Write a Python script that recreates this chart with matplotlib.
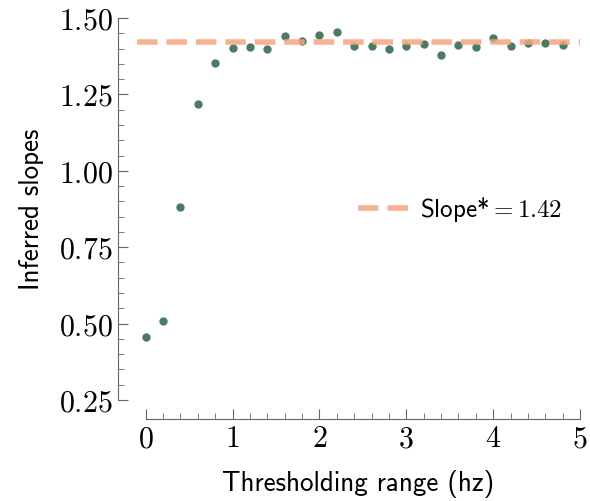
import numpy as np
import matplotlib.pyplot as plt
from matplotlib.ticker import MultipleLocator

plt.rcParams['mathtext.fontset'] = 'cm'
plt.rcParams['axes.formatter.use_mathtext'] = True

threshold_range = [0.0, 0.2, 0.4, 0.6, 0.8, 1.0, 1.2, 1.4, 1.6, 1.8, 2.0, 2.2, 2.4,
                   2.6, 2.8, 3.0, 3.2, 3.4, 3.6, 3.8, 4.0, 4.2, 4.4, 4.6, 4.8]
inferred_slopes = [0.456, 0.509, 0.882, 1.220, 1.353, 1.403, 1.404, 1.399, 1.441,
                   1.426, 1.445, 1.454, 1.410, 1.409, 1.397, 1.408, 1.414, 1.378,
                   1.411, 1.406, 1.436, 1.409, 1.419, 1.419, 1.411]
true_slope = 1.42

fig = plt.figure(figsize=(5.9, 5.01), dpi=100)
ax = fig.add_axes([137/590, 1 - 400/501, (580 - 137)/590, (400 - 18)/501])

ax.scatter(threshold_range, inferred_slopes, s=36, color='#4b7b63', zorder=2, linewidths=0)
ax.axhline(true_slope, color='#f4a582', alpha=0.85, lw=4, ls='--', zorder=3,
           label=r'Slope*$=%.2f$' % true_slope)

ax.set_xlim(-0.1, 5.0)
ax.set_ylim(0.25, 1.5)
ax.xaxis.set_major_locator(MultipleLocator(1))
ax.xaxis.set_minor_locator(MultipleLocator(0.2))
ax.yaxis.set_major_locator(MultipleLocator(0.25))
ax.yaxis.set_minor_locator(MultipleLocator(0.05))
ax.yaxis.set_major_formatter(plt.FuncFormatter(lambda v, p: r'$%.2f$' % v))
ax.xaxis.set_major_formatter(plt.FuncFormatter(lambda v, p: r'$%d$' % v))

for side in ['top', 'right']:
    ax.spines[side].set_visible(False)
ax.spines['left'].set_position(('outward', 14))
ax.spines['bottom'].set_position(('outward', 14))
ax.spines['left'].set_bounds(0.25, 1.5)
ax.spines['bottom'].set_bounds(0, 5)
for side in ['left', 'bottom']:
    ax.spines[side].set_color('#666666')
ax.tick_params(which='both', direction='in', color='#666666', labelsize=21.5)
ax.tick_params(which='major', length=7)
ax.tick_params(which='minor', length=4)

ax.set_xlabel('Thresholding range (hz)', family='cmss10', fontsize=19.5, labelpad=12)
ax.set_ylabel('Inferred slopes', family='cmss10', fontsize=19.5, labelpad=11)
leg = ax.legend(loc='center right', bbox_to_anchor=(1.01, 0.5), frameon=False,
                prop={'family': 'cmss10', 'size': 18}, handlelength=2.1,
                handletextpad=0.35)

plt.savefig('out.png')
